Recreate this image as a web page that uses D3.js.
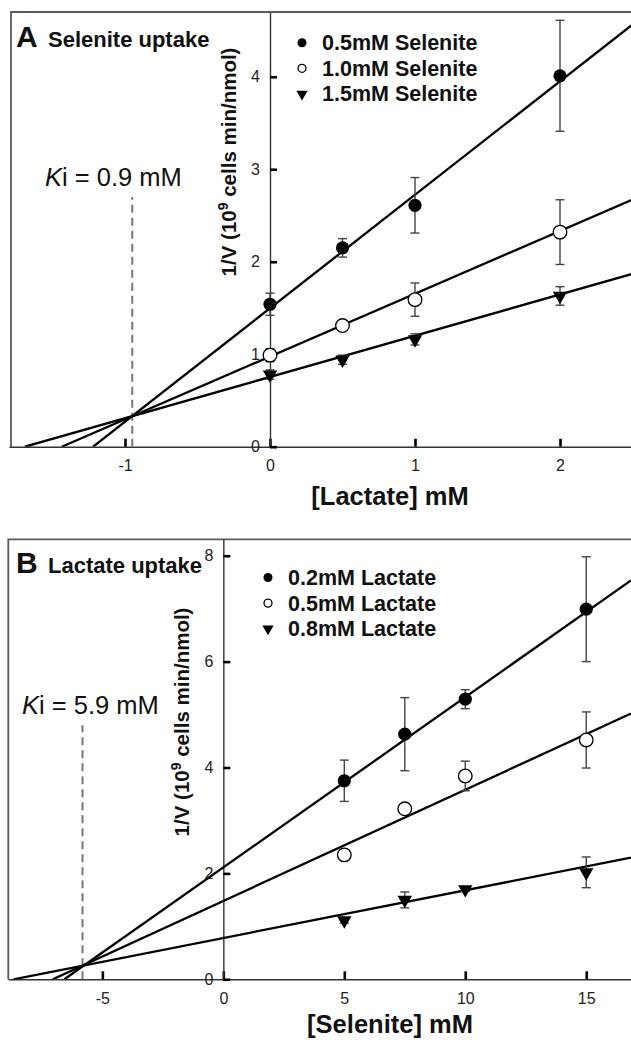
<!DOCTYPE html>
<html>
<head>
<meta charset="utf-8">
<script src="https://cdn.jsdelivr.net/npm/d3@7"></script>
<style>
  body { margin: 0; background: #fff; }
  svg { display: block; font-family: "Liberation Sans", Arial, sans-serif; }
</style>
</head>
<body>
<div id="chart"></div>
<script>
// ---- panel A : selenite uptake vs lactate ----
const lactateA = [0, 0.5, 1, 2];
const se05 = [1.54, 2.15, 2.61, 4.01];
const se05Err = [0.12, 0.10, 0.30, 0.60];
const se10 = [0.99, 1.31, 1.59, 2.32];
const se10Err = [0.07, 0.04, 0.18, 0.35];
const se15 = [0.78, 0.94, 1.16, 1.63];
const se15Err = [0.05, 0.05, 0.06, 0.10];
const fitXintA = [-1.22, -1.436, -1.69];
const fitSlopeA = [1.227, 0.679, 0.446];
const legendA = ["0.5mM Selenite", "1.0mM Selenite", "1.5mM Selenite"];
const xTicksA = [-1, 0, 1, 2];
const yTicksA = [0, 1, 2, 3, 4];

// ---- panel B : lactate uptake vs selenite ----
const seleniteB = [5, 7.5, 10, 15];
const la02 = [3.75, 4.63, 5.29, 6.99];
const la02Err = [0.39, 0.69, 0.18, 0.99];
const la05 = [2.35, 3.22, 3.84, 4.52];
const la05Err = [0, 0, 0.28, 0.53];
const la08 = [1.11, 1.50, 1.70, 2.02];
const la08Err = [0.05, 0.15, 0.04, 0.29];
const fitXintB = [-6.57, -7.05, -8.67];
const fitSlopeB = [0.3217, 0.21, 0.09];
const legendB = ["0.2mM Lactate", "0.5mM Lactate", "0.8mM Lactate"];
const xTicksB = [-5, 0, 5, 10, 15];
const yTicksB = [0, 2, 4, 6, 8];

const W = 631, H = 1040;
const svg = d3.select("#chart").append("svg")
    .attr("width", W).attr("height", H);
svg.append("rect").attr("width", W).attr("height", H).attr("fill", "#fff");

const markers = ["filled", "open", "tri"];

function drawMarker(g, type, x, y, big) {
    if (type === "tri") {
        g.append("path")
            .attr("d", d3.symbol(d3.symbolTriangle, big ? 90 : 55)())
            .attr("transform", "translate(" + x + "," + y + ") rotate(180)")
            .attr("fill", "#000");
    } else {
        g.append("circle")
            .attr("cx", x).attr("cy", y)
            .attr("r", type === "filled" ? (big ? 6.6 : 4.5) : (big ? 6.8 : 4))
            .attr("fill", type === "filled" ? "#000" : "#fff")
            .attr("stroke", "#000")
            .attr("stroke-width", type === "filled" ? 0 : 1.3);
    }
}

function drawPanel(p) {
    const g = svg.append("g");
    const x = p.x, y = p.y;
    const x0 = x.range()[0], x1 = x.range()[1];
    const y0 = y.range()[0], yTop = y.range()[1];

    // frame
    g.append("path")
        .attr("d", "M" + p.frameLeft + "," + y0 + "V" + yTop + "H" + (W + 5))
        .attr("fill", "none").attr("stroke", "#5a5a5a").attr("stroke-width", 1.8);

    // axes
    const xAxis = g.append("g")
        .attr("transform", "translate(0," + y(0) + ")")
        .call(d3.axisBottom(x).tickValues(p.xTicks).tickSizeInner(-8).tickSizeOuter(0)
            .tickPadding(p.xPad).tickFormat(d3.format("d")));
    const yAxis = g.append("g")
        .attr("transform", "translate(" + x(0) + ",0)")
        .call(d3.axisLeft(y).tickValues(p.yTicks).tickSizeInner(-7).tickSizeOuter(0)
            .tickPadding(10).tickFormat(d3.format("d")));
    [xAxis, yAxis].forEach(a => {
        a.select(".domain").attr("stroke", "#333").attr("stroke-width", 1.4);
        a.selectAll(".tick line").attr("stroke", "#000").attr("stroke-width", 2.6);
        a.selectAll(".tick text").attr("fill", "#222")
            .style("font-size", "16px").style("font-family", "Liberation Sans, Arial, sans-serif");
    });
    xAxis.selectAll(".tick text").text(d => d < 0 ? "-" + Math.abs(d) : d);

    // Ki dashed line
    g.append("line")
        .attr("x1", x(p.kiX)).attr("x2", x(p.kiX))
        .attr("y1", y(0)).attr("y2", y(p.kiTop))
        .attr("stroke", "#777").attr("stroke-width", 2)
        .attr("stroke-dasharray", "8,5");
    const ki = g.append("text")
        .attr("x", p.kiTextX).attr("y", p.kiTextY)
        .style("font-size", "25.5px").attr("fill", "#111");
    ki.append("tspan").style("font-style", "italic").text("K");
    ki.append("tspan").text("i = " + p.kiLabel + " mM");

    // fitted lines
    const clipId = "clip" + p.id;
    svg.append("clipPath").attr("id", clipId).append("rect")
        .attr("x", x0).attr("y", yTop).attr("width", x1 - x0).attr("height", y0 - yTop);
    const xMax = x.domain()[1];
    p.fitXint.forEach((xi, i) => {
        g.append("line")
            .attr("clip-path", "url(#" + clipId + ")")
            .attr("x1", x(xi)).attr("y1", y(0))
            .attr("x2", x(xMax)).attr("y2", y(p.fitSlope[i] * (xMax - xi)))
            .attr("stroke", "#000").attr("stroke-width", 2.3);
    });

    // error bars
    p.series.forEach(s => {
        s.v.forEach((v, j) => {
            const e = s.e[j];
            if (!e) return;
            const cx = x(p.xs[j]);
            const eg = g.append("g").attr("stroke", "#444").attr("stroke-width", 1.4);
            eg.append("line").attr("x1", cx).attr("x2", cx).attr("y1", y(v - e)).attr("y2", y(v + e));
            eg.append("line").attr("x1", cx - 4.5).attr("x2", cx + 4.5).attr("y1", y(v - e)).attr("y2", y(v - e));
            eg.append("line").attr("x1", cx - 4.5).attr("x2", cx + 4.5).attr("y1", y(v + e)).attr("y2", y(v + e));
        });
    });

    // points
    p.series.forEach((s, i) => {
        s.v.forEach((v, j) => drawMarker(g, markers[i], x(p.xs[j]), y(v), true));
    });

    // legend
    p.legend.forEach((t, i) => {
        const ly = p.legY + i * 25.6;
        drawMarker(g, markers[i], p.legX, ly, false);
        g.append("text").attr("x", p.legX + 20).attr("y", ly + 7.5)
            .style("font-size", "21.5px").style("font-weight", "bold").attr("fill", "#111")
            .text(t);
    });

    // panel title
    g.append("text").attr("x", p.letterX).attr("y", p.titleY)
        .style("font-size", "30px").style("font-weight", "bold").attr("fill", "#111")
        .text(p.letter);
    g.append("text").attr("x", p.letterX + 32).attr("y", p.titleY)
        .style("font-size", "22px").style("font-weight", "bold").attr("fill", "#111")
        .text(p.title);

    // axis titles
    const yl = g.append("text")
        .attr("transform", "translate(" + (x(0) - 34) + "," + p.yLabelY + ") rotate(-90)")
        .attr("text-anchor", "middle")
        .style("font-size", "20.5px").style("font-weight", "bold").attr("fill", "#111");
    yl.append("tspan").text("1/V (10");
    yl.append("tspan").attr("dy", -8).style("font-size", "14px").text("9");
    yl.append("tspan").attr("dy", 8).text(" cells min/nmol)");

    g.append("text").attr("x", 390).attr("y", p.xLabelY)
        .attr("text-anchor", "middle")
        .style("font-size", "25.5px").style("font-weight", "bold").attr("fill", "#111")
        .text(p.xLabel);
}

drawPanel({
    id: "A",
    x: d3.scaleLinear().domain([-1.8, 2.5]).range([9, 632.5]),
    y: d3.scaleLinear().domain([0, 4.7]).range([446.7, 12]),
    frameLeft: 11,
    xTicks: xTicksA, yTicks: yTicksA, xPad: 12.5,
    xs: lactateA,
    series: [{v: se05, e: se05Err}, {v: se10, e: se10Err}, {v: se15, e: se15Err}],
    fitXint: fitXintA, fitSlope: fitSlopeA,
    kiX: -0.95, kiTop: 2.7, kiLabel: "0.9", kiTextX: 45, kiTextY: 186,
    legend: legendA, legX: 302, legY: 42.7,
    letter: "A", title: "Selenite uptake", letterX: 16, titleY: 46.5,
    yLabelY: 162, xLabel: "[Lactate] mM", xLabelY: 505
});

drawPanel({
    id: "B",
    x: d3.scaleLinear().domain([-8.9, 16.85]).range([8, 631]),
    y: d3.scaleLinear().domain([0, 8.31]).range([979.3, 539.3]),
    frameLeft: 8.3,
    xTicks: xTicksB, yTicks: yTicksB, xPad: 13.3,
    xs: seleniteB,
    series: [{v: la02, e: la02Err}, {v: la05, e: la05Err}, {v: la08, e: la08Err}],
    fitXint: fitXintB, fitSlope: fitSlopeB,
    kiX: -5.82, kiTop: 4.8, kiLabel: "5.9", kiTextX: 22, kiTextY: 714,
    legend: legendB, legX: 268, legY: 577.5,
    letter: "B", title: "Lactate uptake", letterX: 16, titleY: 572.5,
    yLabelY: 722, xLabel: "[Selenite] mM", xLabelY: 1033
});
</script>
</body>
</html>
